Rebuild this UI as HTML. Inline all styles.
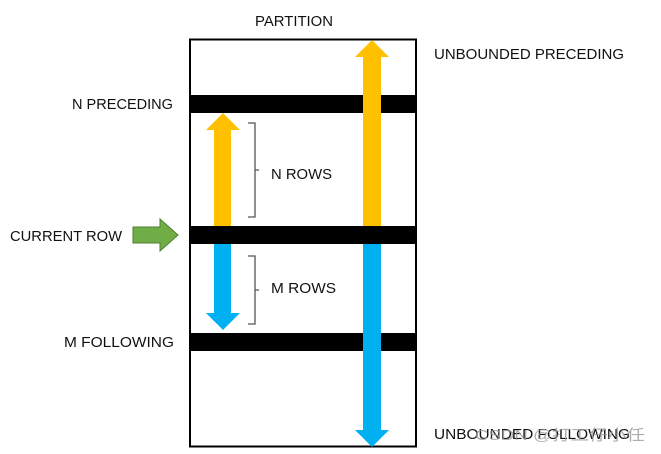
<!DOCTYPE html>
<html><head><meta charset="utf-8"><style>
html,body{margin:0;padding:0;background:#fff;width:661px;height:454px;overflow:hidden}
text{font-family:"Liberation Sans","Noto Sans CJK SC",sans-serif;font-size:15px;fill:#111}
</style></head><body>
<svg width="661" height="454" viewBox="0 0 661 454" xmlns="http://www.w3.org/2000/svg">
<rect x="190" y="39.5" width="226" height="407" fill="#fff" stroke="#000" stroke-width="2"/>
<rect x="190" y="95" width="226" height="18" fill="#000"/>
<rect x="190" y="226" width="226" height="18" fill="#000"/>
<rect x="190" y="333" width="226" height="18" fill="#000"/>
<polygon points="214,226 214,130 206,130 223,113 240,130 231,130 231,226" fill="#FFC000"/>
<polygon points="363,226 363,57 355,57 372,40 389,57 381,57 381,226" fill="#FFC000"/>
<polygon points="214,244 214,313 206,313 223,330 240,313 231,313 231,244" fill="#00B0F0"/>
<polygon points="363,244 363,430 355,430 372,447 389,430 381,430 381,244" fill="#00B0F0"/>
<polygon points="133,227 160,227 160,219 178,235 160,251 160,243 133,243" fill="#70AD47" stroke="#507e32" stroke-width="1"/>
<path d="M248,123 H255 V170 H259 M255,170 V217 H248" fill="none" stroke="#555" stroke-width="1.3"/>
<path d="M248,256 H255 V290 H259 M255,290 V324 H248" fill="none" stroke="#555" stroke-width="1.3"/>
<text x="255" y="26" textLength="78" lengthAdjust="spacingAndGlyphs">PARTITION</text>
<text x="434" y="59" textLength="190" lengthAdjust="spacingAndGlyphs">UNBOUNDED PRECEDING</text>
<text x="72" y="109" textLength="101" lengthAdjust="spacingAndGlyphs">N PRECEDING</text>
<text x="271" y="179" textLength="61" lengthAdjust="spacingAndGlyphs">N ROWS</text>
<text x="10" y="241" textLength="112" lengthAdjust="spacingAndGlyphs">CURRENT ROW</text>
<text x="271" y="293" textLength="65" lengthAdjust="spacingAndGlyphs">M ROWS</text>
<text x="64" y="347" textLength="110" lengthAdjust="spacingAndGlyphs">M FOLLOWING</text>
<text x="434" y="439" textLength="196" lengthAdjust="spacingAndGlyphs">UNBOUNDED FOLLOWING</text>
<text x="475" y="440" style="fill:#999;opacity:0.8" textLength="170" lengthAdjust="spacingAndGlyphs">CSDN @打工仔小任</text>
</svg>
</body></html>
